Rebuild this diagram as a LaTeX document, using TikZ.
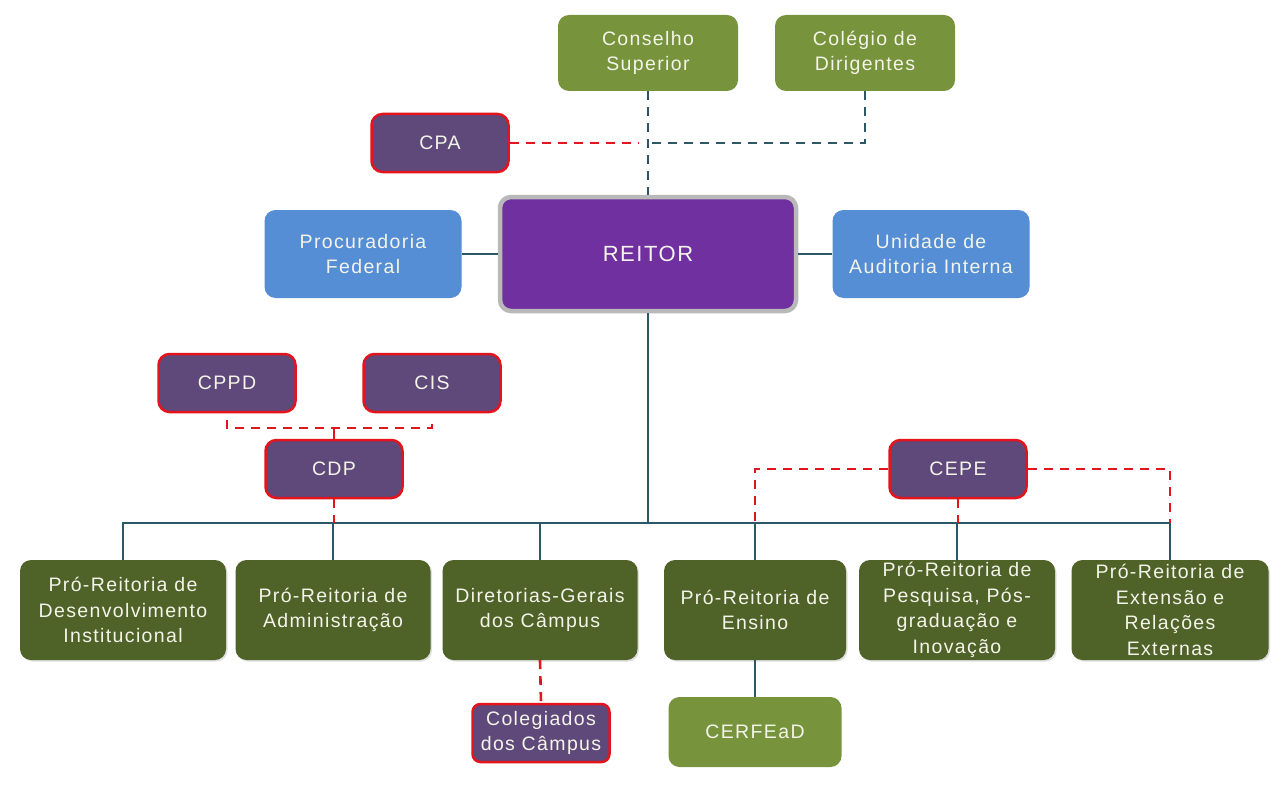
\documentclass[tikz,border=0pt]{standalone}
\usepackage{fontspec}
\setmainfont[LetterSpace=7]{Liberation Sans}
\usetikzlibrary{shadows}
\definecolor{olive}{HTML}{77933C}
\definecolor{dgreen}{HTML}{4F6228}
\definecolor{pgray}{HTML}{5F497A}
\definecolor{rpurple}{HTML}{7030A0}
\definecolor{lblue}{HTML}{558ED5}
\definecolor{redb}{HTML}{E3141E}
\definecolor{tealc}{HTML}{2B5766}
\definecolor{txt}{HTML}{F4F4EA}
\tikzset{
  box/.style={rectangle, rounded corners=11pt, align=center, text=txt, inner sep=0pt,
    font=\fontsize{19.5}{25.5}\selectfont},
  oliveb/.style={box, fill=olive, minimum width=180pt, minimum height=76pt},
  bluebox/.style={box, fill=lblue, minimum width=197pt, minimum height=88pt},
  greenb/.style={box, fill=dgreen, minimum height=100pt,
    drop shadow={opacity=0.25, shadow xshift=1.5pt, shadow yshift=-1.5pt}},
  redbox/.style={box, fill=pgray, draw=redb, line width=2.5pt, minimum width=137pt, minimum height=58pt},
  solidc/.style={draw=tealc, line width=2pt},
  tdash/.style={draw=tealc, line width=2.6pt, dash pattern=on 9pt off 7pt},
  rdash/.style={draw=redb, line width=2.6pt, dash pattern=on 9pt off 7pt},
}
\begin{document}
\begin{tikzpicture}[x=1pt, y=-1pt]
\useasboundingbox[fill=white] (0,0) rectangle (1279,789);

% top
\node[oliveb] (cons) at (648,53) {Conselho\\Superior};
\node[oliveb] (coleg) at (865,53) {Colégio de\\Dirigentes};
\node[redbox] (cpa) at (440,143) {CPA};

% reitor
\node[box, fill=rpurple, draw=gray!55, line width=4.5pt, minimum width=296pt, minimum height=114pt,
  font=\fontsize{22}{26}\selectfont] (reitor) at (648,254) {REITOR};
\node[bluebox] (proc) at (363,254) {Procuradoria\\Federal};
\node[bluebox] (unid) at (931,254) {Unidade de\\Auditoria Interna};

% commissions
\node[redbox] (cppd) at (227,383) {CPPD};
\node[redbox] (cis) at (432,383) {CIS};
\node[redbox] (cdp) at (334,469) {CDP};
\node[redbox] (cepe) at (958,469) {CEPE};

% bottom row
\node[greenb, minimum width=206pt] (prdi) at (123,610) {Pró-Reitoria de\\Desenvolvimento\\Institucional};
\node[greenb, minimum width=195pt] (pra) at (333,610) {Pró-Reitoria de\\Administração};
\node[greenb, minimum width=195pt] (dg) at (540,610) {Diretorias-Gerais\\dos Câmpus};
\node[greenb, minimum width=182pt] (pren) at (755,610) {Pró-Reitoria de\\Ensino};
\node[greenb, minimum width=196pt] (prppi) at (957,610) {Pró-Reitoria de\\Pesquisa, Pós-\\graduação e\\Inovação};
\node[greenb, minimum width=197pt] (prex) at (1170,610) {Pró-Reitoria de\\Extensão e\\Relações\\Externas};

\node[redbox, rounded corners=8pt] (colg) at (541,733) {Colegiados\\dos Câmpus};
\node[box, fill=olive, minimum width=173pt, minimum height=70pt] (cerf) at (755,732) {CERFEaD};

% coordinates
\coordinate (j1) at (648,143);
\coordinate (j1l) at (638,143);
\coordinate (bus) at (648,523);
\coordinate (k) at (334,428);

% top connectors
\draw[tdash] (cons.south) -- (reitor.north);
\draw[tdash] (coleg.south) |- (j1);
\draw[rdash] (cpa.east) -- (j1l);

\draw[solidc] (proc.east) -- (reitor.west);
\draw[solidc] (unid.west) -- (reitor.east);

% bus
\draw[solidc] (reitor.south) -- (bus);
\draw[solidc] (prdi.north) -- (prdi.north |- bus) -- (prex.north |- bus) -- (prex.north);
\draw[solidc] (pra.north) -- (pra.north |- bus);
\draw[solidc] (dg.north) -- (dg.north |- bus);
\draw[solidc] (pren.north) -- (pren.north |- bus);
\draw[solidc] (prppi.north) -- (prppi.north |- bus);

% commissions links
\draw[rdash] ([yshift=-7pt]cppd.south) |- (k) -| ([yshift=-7pt]cis.south);
\draw[draw=redb, line width=2.4pt] (k) -- (cdp.north);
\draw[rdash] (cdp.south) -- (cdp.south |- bus);

\draw[rdash] (cepe.west) -| (pren.north |- bus);
\draw[rdash] (cepe.east) -| (prex.north |- bus);
\draw[rdash] (cepe.south) -- (cepe.south |- bus);

% lower links
\draw[rdash] (dg.south) -- (colg.north);
\draw[solidc] (pren.south) -- (cerf.north);
\end{tikzpicture}
\end{document}
